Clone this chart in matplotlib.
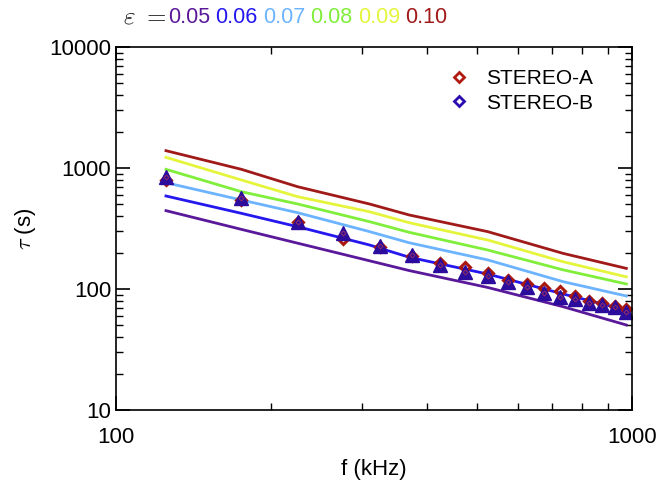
import numpy as np
import matplotlib
matplotlib.use('Agg')
import matplotlib.pyplot as plt
from matplotlib.ticker import LogLocator, NullFormatter

plt.rcParams['font.family'] = ['Liberation Sans', 'DejaVu Sans']
plt.rcParams['mathtext.fontset'] = 'cm'

# model curves
f_model = [125, 175, 225, 310, 370, 525, 735, 975]
eps_labels = ['0.05', '0.06', '0.07', '0.08', '0.09', '0.10']
eps_colors = ['#5a189a', '#2418ee', '#6cb4ff', '#80ee3a', '#e4f53c', '#a01a1a']
tau_005 = [444, 311, 239, 171, 142, 103, 71.4, 50.4]
tau_006 = [587, 422, 327, 231, 183, 133, 91, 67]
tau_007 = [756, 544, 427, 298, 241, 174, 115, 87.5]
tau_008 = [975, 637, 504, 360, 294, 210, 144, 110]
tau_009 = [1225, 796, 579, 435, 353, 254, 168, 126]
tau_010 = [1390, 975, 700, 504, 409, 298, 197, 148]
tau_model = [tau_005, tau_006, tau_007, tau_008, tau_009, tau_010]

# observations
f_obs = [125, 175, 225, 275, 325, 375, 425, 475, 525, 575,
         625, 675, 725, 775, 825, 875, 925, 975]
tau_a = [796, 544, 355, 258, 221, 188, 163, 153, 135, 119,
         109, 101, 96.2, 87.5, 79.6, 76.2, 72.4, 68]
tau_b = [838, 569, 360, 292, 227, 190, 158, 139, 128, 115,
         104.5, 93, 85.4, 82.2, 77, 73.7, 70.6, 64.9]

fig = plt.figure(dpi=100, figsize=[6.62, 4.86])
ax = fig.add_axes([0.1752, 0.1564, 0.7795, 0.7469])

for tau, c in zip(tau_model, eps_colors):
    ax.plot(f_model, tau, color=c, linewidth=2.0)

ax.plot(f_obs, tau_a, linestyle='none', marker='D', markersize=5,
        markerfacecolor='none', markeredgecolor='#a8180e', markeredgewidth=2.2)
ax.plot(f_obs, tau_b, linestyle='none', marker='^', markersize=10,
        markerfacecolor='#2c0c9c', markeredgecolor='#2c0c9c')
ax.plot(f_obs, tau_b, linestyle='none', marker='D', markersize=2.5,
        markerfacecolor='none', markeredgecolor='#8a2a6a', markeredgewidth=0.8)

# legend
la, = ax.plot([], [], linestyle='none', marker='D', markersize=5,
              markerfacecolor='none', markeredgecolor='#b01a10', markeredgewidth=2.0)
lb, = ax.plot([], [], linestyle='none', marker='D', markersize=5,
              markerfacecolor='none', markeredgecolor='#2c0cb0', markeredgewidth=2.0)
ax.legend([la, lb], ['STEREO-A', 'STEREO-B'], loc='upper right', frameon=False,
          fontsize=15, handlelength=1.0, handletextpad=0.8, labelspacing=0.25,
          bbox_to_anchor=(0.96, 0.99))

ax.set_xscale('log')
ax.set_yscale('log')
ax.set_xlim(100, 1000)
ax.set_ylim(10, 10000)
ax.set_xticks([100, 1000])
ax.set_xticklabels(['100', '1000'])
ax.set_yticks([10, 100, 1000, 10000])
ax.set_yticklabels(['10', '100', '1000', '10000'])
ax.xaxis.set_minor_locator(LogLocator(base=10, subs=np.arange(2, 10)))
ax.yaxis.set_minor_locator(LogLocator(base=10, subs=np.arange(2, 10)))
ax.xaxis.set_minor_formatter(NullFormatter())
ax.yaxis.set_minor_formatter(NullFormatter())
ax.tick_params(which='both', direction='in', top=True, right=True, labelsize=16)
ax.tick_params(which='major', length=10, width=1.2)
ax.tick_params(which='minor', length=5, width=1.0)
ax.tick_params(axis='x', pad=12)
for s in ax.spines.values():
    s.set_linewidth(1.2)

ax.set_xlabel('f (kHz)', fontsize=16, labelpad=8)
ax.set_ylabel(r'$\tau$ (s)', fontsize=16, labelpad=8)

# coloured title
fig.canvas.draw()
r = fig.canvas.get_renderer()
x = 123 / 662.
ty = 1 - 16 / 486.
t = fig.text(x, ty, r'$\varepsilon\ =$', fontsize=18, va='center', color='black')
x = t.get_window_extent(r).x1 / fig.bbox.width + 0.002
for lab, c in zip(eps_labels, eps_colors):
    t = fig.text(x, ty - 0.004, lab, fontsize=15.5, va='center', color=c)
    x = t.get_window_extent(r).x1 / fig.bbox.width + 0.008

plt.savefig('out.png', format='png')
